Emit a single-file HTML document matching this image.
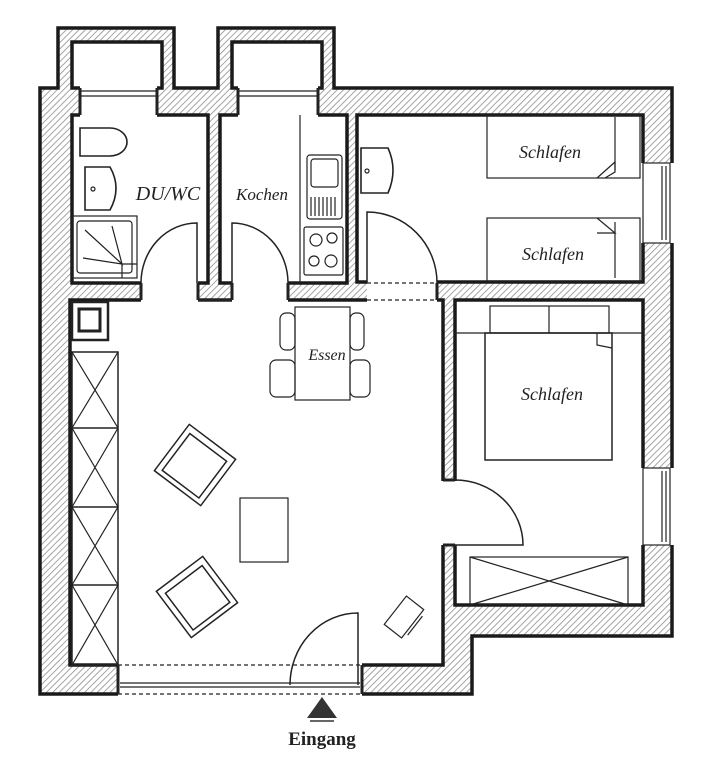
<!DOCTYPE html>
<html><head><meta charset="utf-8"><style>
html,body{margin:0;padding:0;background:#fff;}
svg{display:block}
.s{font-family:"Liberation Serif",serif;font-style:italic;fill:#222;}
</style></head><body>
<svg width="703" height="768" viewBox="0 0 703 768" xmlns="http://www.w3.org/2000/svg">
<defs>
<pattern id="h" width="4.5" height="4.5" patternUnits="userSpaceOnUse" patternTransform="rotate(45)">
<rect width="4.5" height="4.5" fill="#fff"/>
<line x1="0" y1="0" x2="0" y2="4.5" stroke="#888" stroke-width="1.5"/>
</pattern>
</defs>
<rect width="703" height="768" fill="#fff"/>
<polygon points="40,88 58,88 58,28 174,28 174,88 218,88 218,28 334,28 334,88 672,88 672,636 472,636 472,694 40,694" fill="url(#h)" stroke="#1a1a1a" stroke-width="3.5"/>
<g fill="#fff" stroke="#1a1a1a" stroke-width="3.5">
<rect x="72" y="42" width="90" height="46"/>
<rect x="232" y="42" width="90" height="46"/>
<rect x="72" y="115" width="136" height="168"/>
<rect x="220" y="115" width="127" height="168"/>
<rect x="357" y="115" width="286" height="167"/>
<rect x="70" y="300" width="373" height="365"/>
<rect x="455" y="300" width="188" height="305"/>
</g>
<g fill="#fff" stroke="none">
<rect x="80" y="86" width="77" height="31"/>
<rect x="238" y="86" width="80" height="31"/>
<rect x="141" y="280" width="57" height="23"/>
<rect x="232" y="280" width="56" height="23"/>
<rect x="367" y="280" width="70" height="23"/>
<rect x="441" y="481" width="16" height="64"/>
<rect x="118" y="662" width="244" height="34"/>
<rect x="641" y="163" width="33" height="80"/>
<rect x="641" y="468" width="33" height="77"/>
</g>
<g fill="none" stroke="#222" stroke-width="1.2">
<line x1="80" y1="91" x2="157" y2="91"/><line x1="80" y1="96" x2="157" y2="96"/>
<line x1="238" y1="91" x2="318" y2="91"/><line x1="238" y1="96" x2="318" y2="96"/>
<line x1="80" y1="88" x2="80" y2="115" stroke-width="3"/><line x1="157" y1="88" x2="157" y2="115" stroke-width="3"/>
<line x1="238" y1="88" x2="238" y2="115" stroke-width="3"/><line x1="318" y1="88" x2="318" y2="115" stroke-width="3"/>
<rect x="643" y="163" width="27" height="80"/><line x1="662" y1="166" x2="662" y2="240"/><line x1="666" y1="166" x2="666" y2="240"/>
<rect x="643" y="468" width="27" height="77"/><line x1="662" y1="471" x2="662" y2="542"/><line x1="666" y1="471" x2="666" y2="542"/>
<line x1="118" y1="665" x2="362" y2="665" stroke-dasharray="4,3"/>
<line x1="118" y1="694" x2="362" y2="694" stroke-dasharray="4,3"/>
<line x1="120" y1="683" x2="360" y2="683"/><line x1="120" y1="687" x2="360" y2="687"/>
<line x1="118" y1="665" x2="118" y2="694" stroke-width="3"/><line x1="362" y1="665" x2="362" y2="694" stroke-width="3"/>
<line x1="367" y1="283" x2="437" y2="283" stroke-dasharray="4,3"/>
<line x1="367" y1="300" x2="437" y2="300" stroke-dasharray="4,3"/>
<line x1="141" y1="283" x2="141" y2="300" stroke-width="3"/>
<line x1="198" y1="283" x2="198" y2="300" stroke-width="3"/><line x1="198" y1="300" x2="232" y2="300" stroke-width="3"/><line x1="232" y1="283" x2="232" y2="300" stroke-width="3"/>
<line x1="288" y1="283" x2="288" y2="300" stroke-width="3"/>
<line x1="437" y1="283" x2="437" y2="300" stroke-width="3"/>
<line x1="443" y1="480" x2="455" y2="480" stroke-width="3"/><line x1="443" y1="545" x2="455" y2="545" stroke-width="3"/>
<path d="M197,283 V223 A56,60 0 0 0 141,283" stroke-width="1.5"/>
<path d="M232,283 V223 A56,60 0 0 1 288,283" stroke-width="1.5"/>
<path d="M367,283 V212 A70,71 0 0 1 437,283" stroke-width="1.5"/>
<path d="M455,480 A68,65 0 0 1 523,545 H455" stroke-width="1.5"/>
<path d="M358,685 V613 A68,72 0 0 0 290,685" stroke-width="1.5"/>
<path d="M80,128 H110 A17,14 0 0 1 110,156 H80 Z" stroke-width="1.6"/>
<path d="M85,167 H110 Q122,188 110,210 H85 Z" stroke-width="1.6"/><circle cx="93" cy="189" r="2"/>
<rect x="72" y="216" width="65" height="62"/><rect x="77" y="221" width="55" height="52" rx="3"/>
<path d="M85,230 L122,264 L112,226 M83,258 L122,264 L122,278 M122,264 L137,264"/>
<line x1="300" y1="115" x2="300" y2="283"/>
<rect x="307" y="155" width="35" height="64" rx="3"/><rect x="311" y="159" width="27" height="28" rx="3"/>
<path d="M311,197 V216 M315,197 V216 M319,197 V216 M323,197 V216 M327,197 V216 M331,197 V216 M335,197 V216"/>
<rect x="304" y="227" width="39" height="48" rx="2"/>
<circle cx="316" cy="240" r="6"/><circle cx="332" cy="238" r="5"/><circle cx="314" cy="261" r="5"/><circle cx="331" cy="261" r="6"/>
<path d="M361,148 H388 Q398,170 388,193 H361 Z" stroke-width="1.6"/><circle cx="367" cy="171" r="2"/>
<rect x="487" y="115" width="153" height="63"/><line x1="615" y1="117" x2="615" y2="170"/><path d="M597,178 L615,162 V172 L605,178"/>
<rect x="487" y="218" width="153" height="63"/><line x1="615" y1="222" x2="615" y2="278"/><path d="M597,218 L615,233 H597"/>
<line x1="455" y1="333" x2="643" y2="333"/>
<rect x="490" y="306" width="119" height="27"/><line x1="549" y1="306" x2="549" y2="333"/>
<rect x="485" y="333" width="127" height="127" stroke-width="1.5"/><path d="M597,333 V345 L612,348"/>
<rect x="470" y="557" width="158" height="48"/><path d="M470,557 L628,605 M628,557 L470,605"/>
<rect x="72" y="302" width="36" height="38" stroke-width="2.5"/><rect x="79" y="309" width="21" height="22" stroke-width="3"/>
<rect x="72" y="352" width="46" height="313" stroke-width="1.5"/>
<path d="M72,428 H118 M72,507 H118 M72,585 H118" stroke-width="1.5"/>
<path d="M72,352 L118,428 M118,352 L72,428 M72,428 L118,507 M118,428 L72,507 M72,507 L118,585 M118,507 L72,585 M72,585 L118,665 M118,585 L72,665"/>
<rect x="295" y="307" width="55" height="93"/>
<rect x="280" y="313" width="15" height="37" rx="6"/><rect x="350" y="313" width="14" height="37" rx="6"/>
<rect x="270" y="360" width="25" height="37" rx="6"/><rect x="350" y="360" width="20" height="37" rx="6"/>
<rect x="240" y="498" width="48" height="64"/>
<g transform="translate(195,465) rotate(37)" stroke-width="1.5"><rect x="-29" y="-29" width="58" height="58"/><rect x="-23" y="-22" width="46" height="46"/></g>
<g transform="translate(197,597) rotate(-37)" stroke-width="1.5"><rect x="-29" y="-29" width="58" height="58"/><rect x="-23" y="-22" width="46" height="46"/></g>
<g transform="translate(404,617) rotate(-52)"><rect x="-18" y="-11" width="36" height="22"/><line x1="-12" y1="14" x2="12" y2="14"/></g>
</g>
<polygon points="322,697 337,718 307,718" fill="#333"/>
<line x1="310" y1="721" x2="334" y2="721" stroke="#333" stroke-width="1.5"/>
<text x="322" y="745" text-anchor="middle" font-family="Liberation Serif,serif" font-weight="bold" font-size="19" fill="#222">Eingang</text>
<text class="s" x="168" y="200" font-size="20" text-anchor="middle">DU/WC</text>
<text class="s" x="262" y="200" font-size="17" text-anchor="middle">Kochen</text>
<text class="s" x="550" y="158" font-size="18" text-anchor="middle">Schlafen</text>
<text class="s" x="553" y="260" font-size="18" text-anchor="middle">Schlafen</text>
<text class="s" x="552" y="400" font-size="18" text-anchor="middle">Schlafen</text>
<text class="s" x="327" y="360" font-size="16" text-anchor="middle">Essen</text>
</svg>
</body></html>
